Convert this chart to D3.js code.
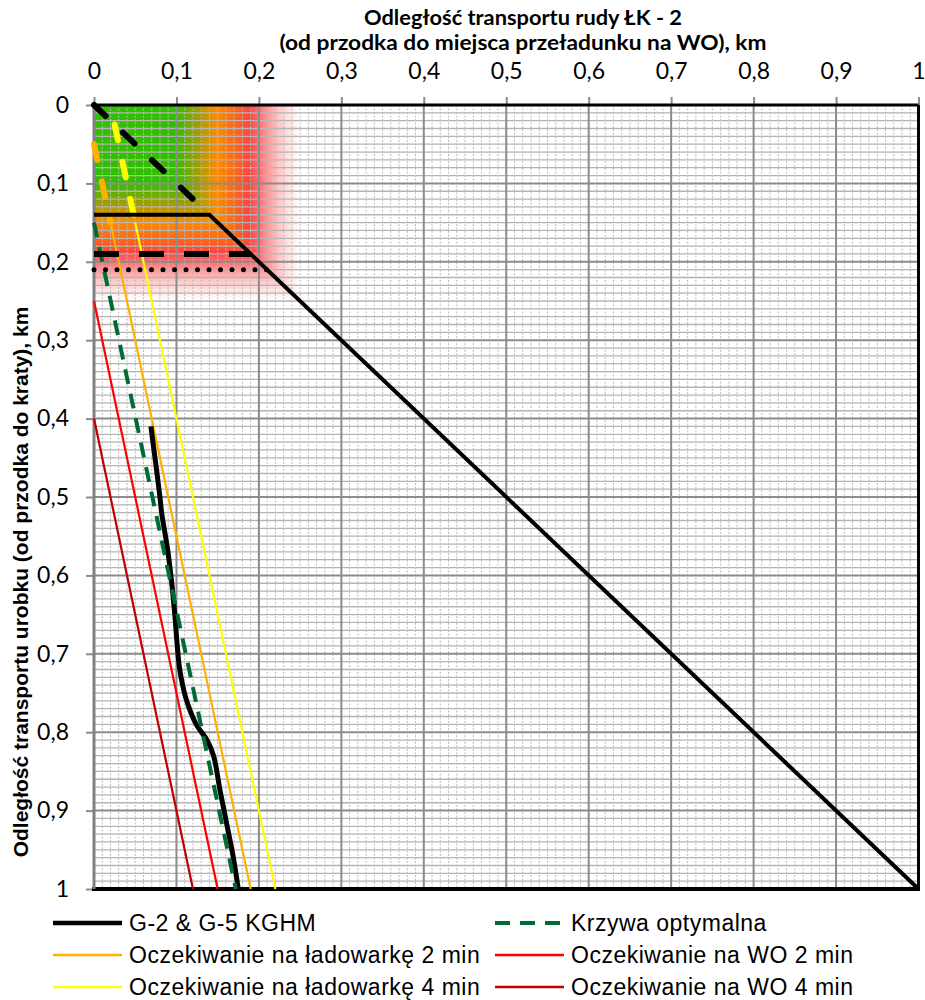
<!DOCTYPE html>
<head>
  <meta charset="utf-8">
  <script src="https://d3js.org/d3.v7.min.js"></script>
  <style>
    body { margin:0; background:#fff; }
    .tick text { font-family: Lato, "Open Sans", sans-serif; font-size: 23px; fill: #000; }
    .legend text { font-family: "Liberation Sans", Arial, sans-serif; font-size: 23px; letter-spacing: 0.5px; fill: #000; }
  </style>
</head>

<body>
<script>
  // tick values of both axes (km)
  var xTicks = [0, 0.1, 0.2, 0.3, 0.4, 0.5, 0.6, 0.7, 0.8, 0.9, 1];
  var yTicks = [0, 0.1, 0.2, 0.3, 0.4, 0.5, 0.6, 0.7, 0.8, 0.9, 1];

  // series, [x, y] in km
  var kghm = [[0.069,0.41],[0.080,0.50],[0.082,0.52],[0.089,0.565],[0.094,0.607],[0.098,0.65],
              [0.101,0.69],[0.104,0.72],[0.111,0.755],[0.124,0.79],[0.137,0.81],[0.145,0.83],
              [0.153,0.875],[0.161,0.917],[0.169,0.96],[0.175,1.0]];
  var optimal = [[0,0.15],[0.172,1]];
  var loader2 = [[0.02,0.15],[0.19,1]];
  var loader2Dash = [[0,0.05],[0.02,0.15]];
  var loader4 = [[0.05,0.15],[0.22,1]];
  var loader4Dash = [[0.025,0.025],[0.05,0.15]];
  var wo2 = [[0,0.25],[0.15,1]];
  var wo4 = [[0,0.4],[0.12,1]];
  var limit = [[0,0.14],[0.14,0.14],[1,1]];
  var limitDiag = [[0,0],[0.14,0.14]];
  var limitDash = [[0,0.19],[0.19,0.19]];
  var limitDot = [[0,0.21],[0.21,0.21]];

  var legendItems = [
    {name: "G-2 & G-5 KGHM", color: "#000", w: 4.5, dash: null},
    {name: "Krzywa optymalna", color: "#006b35", w: 4, dash: "15,10"},
    {name: "Oczekiwanie na ładowarkę 2 min", color: "#ffb000", w: 2.5, dash: null},
    {name: "Oczekiwanie na WO 2 min", color: "#ff0000", w: 2.5, dash: null},
    {name: "Oczekiwanie na ładowarkę 4 min", color: "#ffff00", w: 2.5, dash: null},
    {name: "Oczekiwanie na WO 4 min", color: "#c00000", w: 2.5, dash: null}
  ];

  var svg = d3.select("body").append("svg")
    .attr("width", 925)
    .attr("height", 1000);

  var x = d3.scaleLinear().domain([0, 1]).range([94, 918.5]);
  var y = d3.scaleLinear().domain([0, 1]).range([105, 889]);

  // colour zone near the origin, depends on max(x, y)
  var zone = d3.scaleLinear()
    .domain([0, 0.1, 0.125, 0.15, 0.17, 0.19, 0.205, 0.225, 0.25])
    .range(["#30c000","#30c000","#99a000","#ff8c00","#ff6a10","#ff4444","#ff7f7f","#ffc8c8","#ffffff"]);
  var steps = d3.range(0.25, 0, -0.002);
  svg.append("g").selectAll("rect")
    .data(steps)
    .enter().append("rect")
    .attr("x", x(0))
    .attr("y", y(0))
    .attr("width", function(d) { return x(d) - x(0); })
    .attr("height", function(d) { return y(d) - y(0); })
    .attr("fill", function(d) { return zone(d); });

  // grid
  var minor = d3.range(1, 100).filter(function(i) { return i % 10 != 0; }).map(function(i) { return i / 100; });
  var grid = svg.append("g");
  grid.selectAll(".hmin").data(minor).enter().append("line")
    .attr("x1", x(0)).attr("x2", x(1))
    .attr("y1", function(d) { return y(d); }).attr("y2", function(d) { return y(d); })
    .attr("stroke", "#b4b4b4").attr("stroke-width", 1.3);
  grid.selectAll(".vmin").data(minor).enter().append("line")
    .attr("y1", y(0)).attr("y2", y(1))
    .attr("x1", function(d) { return x(d); }).attr("x2", function(d) { return x(d); })
    .attr("stroke", "#bcbcbc").attr("stroke-width", 1).attr("stroke-dasharray", "2,1.5");
  grid.selectAll(".hmaj").data(yTicks).enter().append("line")
    .attr("x1", x(0)).attr("x2", x(1))
    .attr("y1", function(d) { return y(d); }).attr("y2", function(d) { return y(d); })
    .attr("stroke", "#8c8c8c").attr("stroke-width", 2);
  grid.selectAll(".vmaj").data(xTicks).enter().append("line")
    .attr("y1", y(0)).attr("y2", y(1))
    .attr("x1", function(d) { return x(d); }).attr("x2", function(d) { return x(d); })
    .attr("stroke", "#8c8c8c").attr("stroke-width", 2);

  var fmt = function(d) { return String(+d.toFixed(1)).replace(".", ","); };

  svg.append("g")
    .attr("transform", "translate(0," + y(0) + ")")
    .call(d3.axisTop(x).tickValues(xTicks).tickFormat(fmt).tickSize(8).tickPadding(18));
  svg.append("g")
    .attr("transform", "translate(" + x(0) + ",0)")
    .call(d3.axisLeft(y).tickValues(yTicks).tickFormat(fmt).tickSize(8).tickPadding(17));
  svg.selectAll(".domain").remove();
  svg.selectAll(".tick line").attr("stroke", "#8c8c8c").attr("stroke-width", 2);

  // plot border
  svg.append("line").attr("x1", x(0)).attr("x2", x(1)).attr("y1", y(0)).attr("y2", y(0))
    .attr("stroke", "#000").attr("stroke-width", 3);
  svg.append("line").attr("x1", x(1)).attr("x2", x(1)).attr("y1", y(0)).attr("y2", y(1))
    .attr("stroke", "#000").attr("stroke-width", 3);
  svg.append("line").attr("x1", x(0) - 2).attr("x2", x(1) + 1.5).attr("y1", y(1)).attr("y2", y(1))
    .attr("stroke", "#000").attr("stroke-width", 4);
  svg.append("line").attr("x1", x(0)).attr("x2", x(0)).attr("y1", y(0)).attr("y2", y(1))
    .attr("stroke", "#808080").attr("stroke-width", 3);

  var line = d3.line().x(function(d) { return x(d[0]); }).y(function(d) { return y(d[1]); });

  function draw(data, color, w, dash, cap, curve) {
    var p = svg.append("path")
      .attr("d", line.curve(curve || d3.curveLinear)(data))
      .attr("fill", "none")
      .attr("stroke", color)
      .attr("stroke-width", w)
      .attr("stroke-linecap", cap || "butt");
    if (dash) p.attr("stroke-dasharray", dash);
    return p;
  }

  draw(wo4, "#c00000", 2.2);
  draw(wo2, "#ff0000", 2.2);
  draw(loader4, "#ffff00", 2.2);
  draw(loader2, "#ffb000", 2.2);
  draw(loader4Dash, "#ffff00", 6, "16,22", "round");
  draw(loader2Dash, "#ffb000", 6, "16,22", "round");
  draw(kghm, "#000", 5, null, "butt", d3.curveCatmullRom);
  draw(optimal, "#006b35", 4, "15,10");
  draw(limit, "#000", 4);
  draw(limitDiag, "#000", 6, "16,24", "round");
  draw(limitDash, "#000", 6, "25,20");
  draw(limitDot, "#000", 5, "0,11.5", "round");

  // titles
  var title = svg.append("text")
    .attr("text-anchor", "middle")
    .style("font-family", "Lato, sans-serif")
    .style("font-weight", "bold")
    .style("font-size", "20.5px");
  title.append("tspan").attr("x", 523).attr("y", 25)
    .attr("textLength", 318).attr("lengthAdjust", "spacingAndGlyphs")
    .text("Odległość transportu rudy ŁK - 2");
  title.append("tspan").attr("x", 523).attr("y", 50)
    .attr("textLength", 487).attr("lengthAdjust", "spacingAndGlyphs")
    .text("(od przodka do miejsca przeładunku na WO), km");

  svg.append("text")
    .attr("transform", "translate(28,582) rotate(-90)")
    .attr("text-anchor", "middle")
    .style("font-family", "'Liberation Sans', Arial, sans-serif")
    .style("font-weight", "bold")
    .style("font-size", "21px")
    .text("Odległość transportu urobku (od przodka do kraty), km");

  // legend
  var legend = svg.append("g").attr("class", "legend")
    .selectAll("g")
    .data(legendItems)
    .enter().append("g")
    .attr("transform", function(d, i) {
      return "translate(" + (i % 2 ? 495 : 53) + "," + (923 + Math.floor(i / 2) * 32) + ")";
    });
  legend.append("line")
    .attr("x1", 0).attr("x2", 69)
    .attr("stroke", function(d) { return d.color; })
    .attr("stroke-width", function(d) { return d.w; })
    .attr("stroke-dasharray", function(d) { return d.dash; });
  legend.append("text")
    .attr("x", 76)
    .attr("dy", "0.35em")
    .text(function(d) { return d.name; });
</script>
</body>
